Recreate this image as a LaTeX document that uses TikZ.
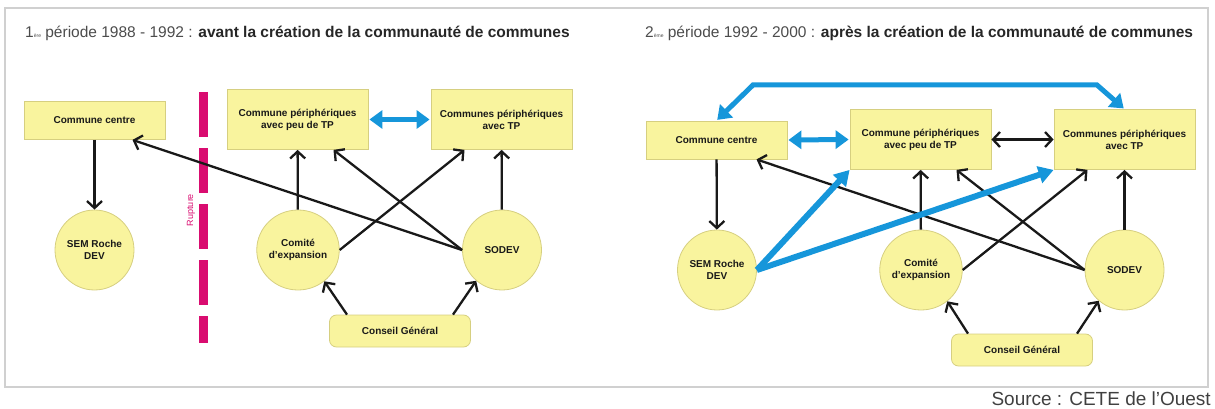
\documentclass[tikz,border=0pt]{standalone}
\usepackage{fontspec}
\setmainfont{Liberation Sans}
\usetikzlibrary{arrows.meta,calc,shapes.geometric}

\definecolor{jaune}{RGB}{249,244,158}
\definecolor{bordjaune}{RGB}{214,207,128}
\definecolor{bleu}{RGB}{22,150,218}
\definecolor{rose}{RGB}{217,12,112}
\definecolor{cadre}{RGB}{208,208,208}

\tikzset{
  boite/.style={draw=bordjaune, fill=jaune, line width=0.8pt, minimum width=141pt,
    minimum height=60pt, align=center, inner sep=2pt, text=black!90,
    font=\fontsize{10}{12}\selectfont\bfseries},
  petite/.style={boite, minimum height=38pt},
  conseil/.style={boite, minimum height=32pt, rounded corners=7pt},
  rond/.style={ellipse, draw=bordjaune, fill=jaune, line width=0.8pt, minimum width=79pt,
    minimum height=80pt, inner sep=0pt, align=center, text=black!90,
    font=\fontsize{10}{12}\selectfont\bfseries},
  titre/.style={anchor=base west, inner sep=0pt, text=black!70, font=\fontsize{15.5}{16}\selectfont},
  fleche/.style={-{Straight Barb[length=7pt,width=15pt]}, line width=2.3pt, black!90},
  fleche2/.style={{Straight Barb[length=7pt,width=15pt]}-{Straight Barb[length=7pt,width=15pt]},
    line width=2.3pt, black!90},
  bleue/.style={-{Triangle[length=15pt,width=17pt]}, line width=6pt, bleu},
  bleue2/.style={{Triangle[length=13pt,width=18pt]}-{Triangle[length=13pt,width=18pt]},
    line width=5pt, bleu, shorten <=1pt, shorten >=1pt},
  rupt/.style={rose, line width=9pt, dash pattern=on 45pt off 11pt}
}
\newcommand{\eme}[1]{{\fontsize{5}{5}\selectfont #1}}

\begin{document}
\begin{tikzpicture}[x=1pt,y=-1pt]
  \useasboundingbox (0,0) rectangle (1215,409);
  \draw[cadre, line width=1.5pt] (5,8) rectangle (1208,387);

  % periode 1
  \node[titre] (titre1) at (25,38) {1\eme{ère} période 1988 - 1992 : \textcolor{black!85}{\bfseries avant la création de la communauté de communes}};
  \node[petite] (cc1) at (94.5,120.5) {Commune centre};
  \node[boite] (peu1) at (297.5,119.5) {Commune périphériques\\avec peu de TP};
  \node[boite] (tp1) at (501.5,119.5) {Communes périphériques\\avec TP};
  \node[rond] (sem1) at (94.5,250) {SEM Roche\\DEV};
  \node[rond] (comite1) at (298,250) {Comité\\d'expansion};
  \node[rond] (sodev1) at (502,250) {SODEV};
  \node[conseil] (cg1) at (400,331) {Conseil Général};

  % rupture
  \draw[rupt] (203.5,92) -- (203.5,343);
  \node[rotate=90, inner sep=0pt, text=rose, font=\fontsize{9}{9}\selectfont] (rupture) at (191,210) {Rupture};

  \draw[fleche] (cc1) -- (sem1);
  \draw[fleche] (comite1) -- (peu1);
  \draw[fleche] (sodev1) -- (tp1);
  \draw[fleche] (sodev1.west) -- ($(cc1.south)+(38,0)$);
  \draw[fleche] (sodev1.west) -- ($(peu1.south)+(36,0)$);
  \draw[fleche] (comite1.east) -- ($(tp1.south)+(-37,0)$);
  \draw[fleche] ($(cg1.north)+(-53,0)$) -- (comite1.-50);
  \draw[fleche] ($(cg1.north)+(53,0)$) -- (sodev1.230);
  \draw[bleue2] (peu1.east) -- (tp1.west);

  % periode 2
  \node[titre] (titre2) at (645,38) {2\eme{ème} période 1992 - 2000 : \textcolor{black!85}{\bfseries après la création de la communauté de communes}};
  \node[petite] (cc2) at (716.5,140) {Commune centre};
  \node[boite] (peu2) at (920.5,139.5) {Commune périphériques\\avec peu de TP};
  \node[boite] (tp2) at (1124.5,139.5) {Communes périphériques\\avec TP};
  \node[rond] (sem2) at (717,270) {SEM Roche\\DEV};
  \node[rond] (comite2) at (921,270) {Comité\\d'expansion};
  \node[rond] (sodev2) at (1124.5,270) {SODEV};
  \node[conseil] (cg2) at (1022,350) {Conseil Général};

  \coordinate (coudeG) at (753,85);
  \coordinate (coudeD) at (1097,85);
  \draw[bleue2] (cc2.north) -- (coudeG) -- (coudeD) -- (tp2.north);
  \draw[bleue2] (cc2.east) -- (peu2.west);
  \draw[fleche2] (peu2.east) -- (tp2.west);

  \draw[fleche] (cc2) -- (sem2);
  \draw[fleche] (comite2) -- (peu2);
  \draw[fleche] (sodev2) -- (tp2);
  \draw[fleche] (sodev2.west) -- ($(cc2.south)+(40,0)$);
  \draw[fleche] (sodev2.west) -- ($(peu2.south)+(36,0)$);
  \draw[fleche] (comite2.east) -- ($(tp2.south)+(-37,0)$);
  \draw[fleche] ($(cg2.north)+(-54,0)$) -- (comite2.-50);
  \draw[fleche] ($(cg2.north)+(55,0)$) -- (sodev2.230);
  \draw[bleue] (sem2.east) -- (peu2.south west);
  \draw[bleue] (sem2.east) -- (tp2.south west);

  \node[anchor=base east, inner sep=0pt, text=black!75, font=\fontsize{19}{19}\selectfont] (source) at (1211,405) {Source : CETE de l'Ouest};
\end{tikzpicture}
\end{document}
